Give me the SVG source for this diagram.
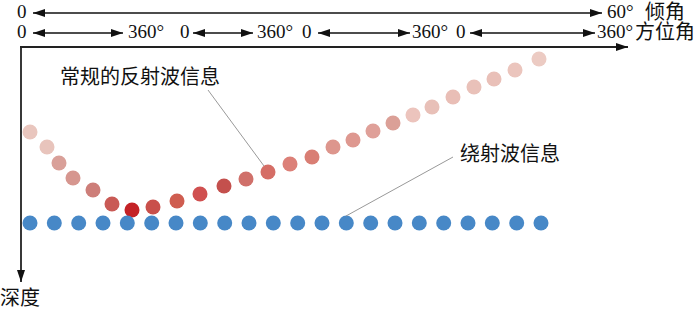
<svg xmlns="http://www.w3.org/2000/svg" width="700" height="311" viewBox="0 0 700 311">
<defs>
<style>
.num{font-family:"Liberation Serif","Noto Sans CJK SC",serif;font-size:19px;fill:#111}
.cjk{font-family:"Liberation Serif","Noto Sans CJK SC",serif;font-size:20px;fill:#111}
.ax{stroke:#222;stroke-width:1.8;fill:none}
.rng{stroke:#111;stroke-width:1.3;fill:none}
.lead{stroke:#999;stroke-width:1;fill:none}
.b{fill:#4788c7}
</style>
<marker id="ah" markerWidth="12" markerHeight="8" refX="12" refY="4" orient="auto-start-reverse" markerUnits="userSpaceOnUse">
<path d="M0,0 L12,4 L0,8 Z" fill="#111"/>
</marker>
</defs>
<rect width="700" height="311" fill="#fff"/>

<g id="dip-axis">
<text class="num" x="17" y="18">0</text>
<line class="rng" x1="33" y1="13" x2="602" y2="13" marker-start="url(#ah)" marker-end="url(#ah)"/>
<text class="num" x="607" y="18">60°</text>
<text class="cjk" x="645" y="19">倾角</text>
</g>

<g id="azimuth-axis">
<text class="num" x="17" y="38">0</text>
<line class="rng" x1="33" y1="33" x2="123" y2="33" marker-start="url(#ah)" marker-end="url(#ah)"/>
<text class="num" x="128" y="38">360°</text>
<text class="num" x="180" y="38">0</text>
<line class="rng" x1="193" y1="33" x2="253" y2="33" marker-start="url(#ah)" marker-end="url(#ah)"/>
<text class="num" x="257" y="38">360°</text>
<text class="num" x="302" y="38">0</text>
<line class="rng" x1="318" y1="33" x2="410" y2="33" marker-start="url(#ah)" marker-end="url(#ah)"/>
<text class="num" x="412" y="38">360°</text>
<text class="num" x="456" y="38">0</text>
<line class="rng" x1="470" y1="33" x2="595" y2="33" marker-start="url(#ah)" marker-end="url(#ah)"/>
<text class="num" x="597" y="38">360°</text>
<text class="cjk" x="635" y="39">方位角</text>
</g>

<g id="frame">
<line class="ax" x1="20" y1="47" x2="628" y2="47" marker-end="url(#ah)"/>
<line class="ax" x1="21" y1="46" x2="21" y2="282" marker-end="url(#ah)"/>
<text class="cjk" x="0" y="305">深度</text>
</g>

<g id="reflection-dots">
<circle cx="30" cy="132" r="7.5" fill="#e9c6be"/>
<circle cx="47" cy="147" r="7.5" fill="#e8c4bc"/>
<circle cx="59" cy="163" r="7.5" fill="#d9a099"/>
<circle cx="73" cy="178" r="7.5" fill="#d6968f"/>
<circle cx="93" cy="190" r="7.5" fill="#cd7e79"/>
<circle cx="112" cy="204" r="7.5" fill="#c95a55"/>
<circle cx="132" cy="210" r="7.5" fill="#c42226"/>
<circle cx="153" cy="207" r="7.5" fill="#c9504b"/>
<circle cx="177" cy="201" r="7.5" fill="#cf5d50"/>
<circle cx="200" cy="194" r="7.5" fill="#d05050"/>
<circle cx="224" cy="186" r="7.5" fill="#c4504d"/>
<circle cx="246" cy="179" r="7.5" fill="#d0706a"/>
<circle cx="268" cy="172" r="7.5" fill="#d56e66"/>
<circle cx="290" cy="164" r="7.5" fill="#dc8078"/>
<circle cx="312" cy="157" r="7.5" fill="#d97e74"/>
<circle cx="333" cy="147" r="7.5" fill="#dd968d"/>
<circle cx="353" cy="140" r="7.5" fill="#de9890"/>
<circle cx="373" cy="131" r="7.5" fill="#dfa099"/>
<circle cx="393" cy="123" r="7.5" fill="#dba097"/>
<circle cx="413" cy="115" r="7.5" fill="#ecc4bd"/>
<circle cx="432" cy="107" r="7.5" fill="#e8c0b8"/>
<circle cx="453" cy="97" r="7.5" fill="#e9beb6"/>
<circle cx="474" cy="87" r="7.5" fill="#e9c1b9"/>
<circle cx="494" cy="79" r="7.5" fill="#e9c0b8"/>
<circle cx="515" cy="70" r="7.5" fill="#ebc5bd"/>
<circle cx="539" cy="59" r="7.5" fill="#eccbc3"/>
</g>

<g id="diffraction-dots">
<circle class="b" cx="30" cy="223" r="7.5"/>
<circle class="b" cx="54.3" cy="223" r="7.5"/>
<circle class="b" cx="78.7" cy="223" r="7.5"/>
<circle class="b" cx="103" cy="223" r="7.5"/>
<circle class="b" cx="127.3" cy="223" r="7.5"/>
<circle class="b" cx="151.7" cy="223" r="7.5"/>
<circle class="b" cx="176" cy="223" r="7.5"/>
<circle class="b" cx="200.3" cy="223" r="7.5"/>
<circle class="b" cx="224.7" cy="223" r="7.5"/>
<circle class="b" cx="249" cy="223" r="7.5"/>
<circle class="b" cx="273.3" cy="223" r="7.5"/>
<circle class="b" cx="297.7" cy="223" r="7.5"/>
<circle class="b" cx="322" cy="223" r="7.5"/>
<circle class="b" cx="346.3" cy="223" r="7.5"/>
<circle class="b" cx="370.7" cy="223" r="7.5"/>
<circle class="b" cx="395" cy="223" r="7.5"/>
<circle class="b" cx="419.3" cy="223" r="7.5"/>
<circle class="b" cx="443.7" cy="223" r="7.5"/>
<circle class="b" cx="468" cy="223" r="7.5"/>
<circle class="b" cx="492.3" cy="223" r="7.5"/>
<circle class="b" cx="516.7" cy="223" r="7.5"/>
<circle class="b" cx="541" cy="223" r="7.5"/>
</g>

<g id="connectors">
<line class="lead" x1="208" y1="90" x2="264" y2="166"/>
<line class="lead" x1="453" y1="157" x2="346" y2="216"/>
</g>

<g id="label-reflection">
<text class="cjk" x="60" y="84">常规的反射波信息</text>
</g>
<g id="label-diffraction">
<text class="cjk" x="460" y="161">绕射波信息</text>
</g>
</svg>
